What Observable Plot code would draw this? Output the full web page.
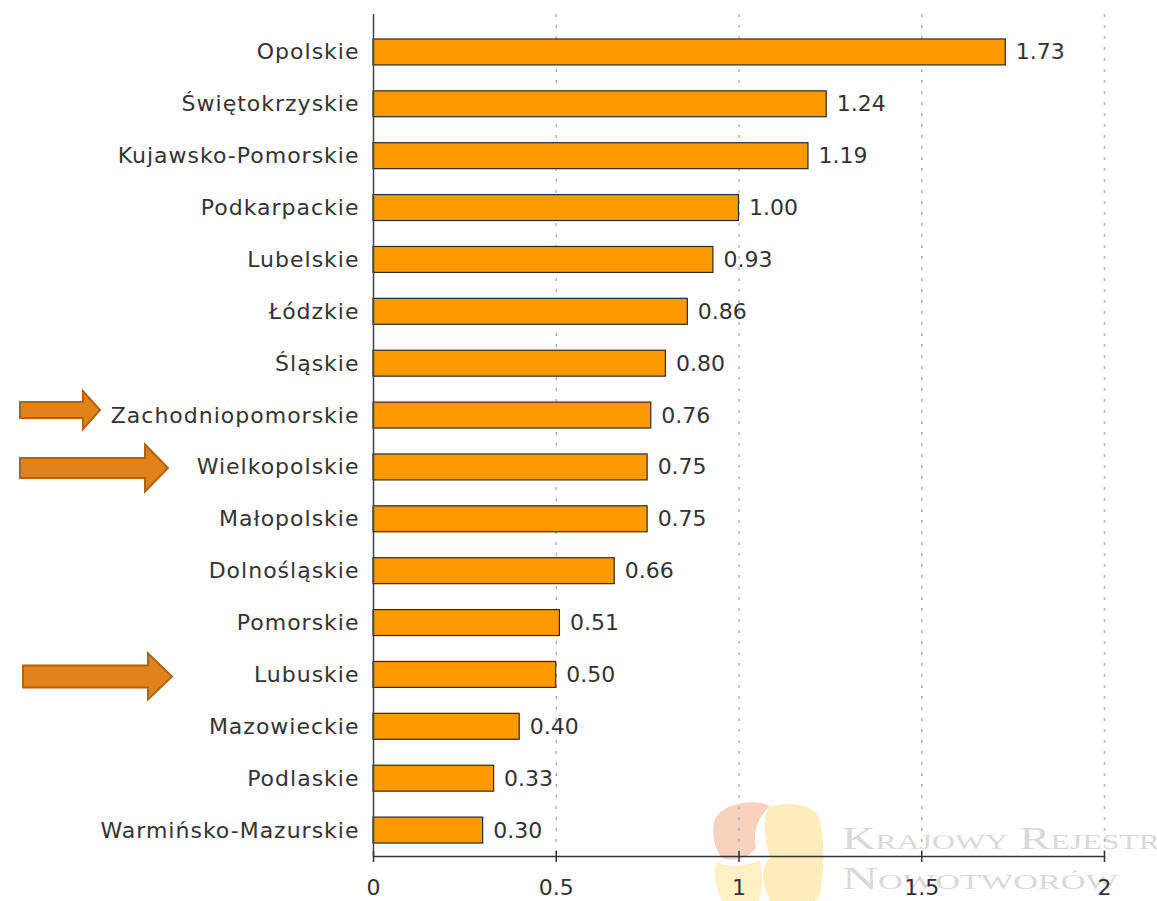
<!DOCTYPE html>
<html>
<head>
<meta charset="utf-8">
<script src="https://cdn.jsdelivr.net/npm/d3@7"></script>
<script src="https://cdn.jsdelivr.net/npm/@observablehq/plot@0.6"></script>
<style>
  html, body { margin: 0; padding: 0; background: #fff; }
  #chart svg { display: block; }
</style>
</head>
<body>
<div id="chart"></div>
<script>
const regions = [
  "Opolskie", "Świętokrzyskie", "Kujawsko-Pomorskie", "Podkarpackie", "Lubelskie",
  "Łódzkie", "Śląskie", "Zachodniopomorskie", "Wielkopolskie", "Małopolskie",
  "Dolnośląskie", "Pomorskie", "Lubuskie", "Mazowieckie", "Podlaskie", "Warmińsko-Mazurskie"
];
const values = [1.73, 1.24, 1.19, 1.00, 0.93, 0.86, 0.80, 0.76, 0.75, 0.75, 0.66, 0.51, 0.50, 0.40, 0.33, 0.30];
const xTicks = [0, 0.5, 1, 1.5, 2];
const highlighted = ["Zachodniopomorskie", "Wielkopolskie", "Lubuskie"];
const watermarkLines = ["Krajowy Rejestr", "Nowotworów"];

const data = regions.map((name, i) => ({name, value: values[i]}));

const W = 1157, H = 901;
const mTop = 26, mBottom = 45, mLeft = 373, mRight = 53;
const plotH = H - mTop - mBottom;
const font = "DejaVu Sans, Verdana, sans-serif";

// arrow geometry (annotation styling, per highlighted row)
const arrowShapes = [
  {tail: 20, neck: 83, tip: 100, shaft: 8, head: 19, dy: -5},
  {tail: 20, neck: 145, tip: 168, shaft: 10, head: 23.5, dy: 1},
  {tail: 23, neck: 148, tip: 172, shaft: 11, head: 23, dy: 2}
];

function bandCenter(scales, name) {
  const y = scales.y;
  let bw = y.bandwidth;
  if (typeof bw === "function") bw = bw.call(y);
  if (!(bw > 0) && scales.scales && scales.scales.y) bw = scales.scales.y.bandwidth;
  if (!(bw > 0)) bw = (y(regions[1]) - y(regions[0])) * 0.5;
  return y(name) + bw / 2;
}

function arrows(index, scales) {
  const g = d3.create("svg:g");
  highlighted.forEach((name, i) => {
    const s = arrowShapes[i];
    const cy = bandCenter(scales, name) + s.dy;
    const pts = [
      [s.tail, cy - s.shaft], [s.neck, cy - s.shaft], [s.neck, cy - s.head],
      [s.tip, cy], [s.neck, cy + s.head], [s.neck, cy + s.shaft], [s.tail, cy + s.shaft]
    ];
    g.append("polygon")
      .attr("points", pts.map(p => p.join(",")).join(" "))
      .attr("fill", "#E3811A")
      .attr("stroke", "#B0620F")
      .attr("stroke-width", 2)
      .attr("stroke-linejoin", "miter");
  });
  return g.node();
}

function watermark() {
  const g = d3.create("svg:g").attr("opacity", 0.85);
  // faint logo pieces
  g.append("path")
    .attr("d", "M768,808 C785,800 812,805 818,815 C826,840 824,872 820,895 L815,901 L770,901 C762,885 760,868 770,858 C765,840 762,822 768,808 Z")
    .attr("fill", "#FEEBB0");
  g.append("path")
    .attr("d", "M716,862 C730,868 748,866 760,860 C763,875 763,890 759,901 L722,901 C716,888 713,875 716,862 Z")
    .attr("fill", "#FEEDBB");
  g.append("path")
    .attr("d", "M714,822 C718,808 740,800 762,803 L770,806 C760,815 752,830 756,848 C748,858 735,862 722,858 C714,848 712,835 714,822 Z")
    .attr("fill", "#F7C9B4");
  const common = t => t
    .attr("fill", "#d3d3d3")
    .attr("font-family", "Liberation Serif, DejaVu Serif, serif")
    .attr("font-size", 32)
    .attr("font-variant", "small-caps")
    .attr("text-anchor", "start")
    .attr("lengthAdjust", "spacingAndGlyphs");
  common(g.append("text")).attr("x", 842).attr("y", 849).attr("textLength", 318).text(watermarkLines[0]);
  common(g.append("text")).attr("x", 842).attr("y", 889).attr("textLength", 276).text(watermarkLines[1]);
  return g.node();
}

const chart = Plot.plot({
  width: W,
  height: H,
  marginTop: mTop,
  marginBottom: mBottom,
  marginLeft: mLeft,
  marginRight: mRight,
  style: {fontFamily: font, fontSize: "22px", color: "#333", background: "#fff", overflow: "visible"},
  x: {domain: [0, 2], ticks: xTicks},
  y: {domain: regions, paddingInner: 0.5, paddingOuter: 0.25, round: false, label: null},
  marks: [
    watermark,
    Plot.ruleX(xTicks.slice(1), {stroke: "#b5b5b5", strokeDasharray: "3,8", strokeWidth: 1.5, insetTop: -12}),
    Plot.barX(data, {x: "value", y: "name", fill: "#FF9900", stroke: "#2a2a2a", strokeWidth: 1.2}),
    Plot.text(data, {x: "value", y: "name", text: d => d.value.toFixed(2), dx: 10, textAnchor: "start",
      fill: "#333", fontSize: 22}),
    Plot.axisY({tickSize: 0, tickPadding: 14, fontSize: 22, label: null, fill: "#333"}),
    Plot.ruleX([0], {stroke: "#444", strokeWidth: 1.5, insetTop: -12}),
    Plot.frame({anchor: "bottom", stroke: "#333", strokeWidth: 1.5}),
    Plot.ruleX(xTicks, {stroke: "#333", strokeWidth: 1.5, insetTop: plotH - 5, insetBottom: -6}),
    Plot.axisX({ticks: xTicks, tickFormat: d => String(d), tickSize: 0, tickPadding: 23,
      fontSize: 22, label: null, fill: "#333"}),
    arrows
  ]
});

// wider letter spacing on the region labels, as in the reference
chart.querySelectorAll("g[aria-label='y-axis tick label'] text")
  .forEach(t => t.setAttribute("letter-spacing", "1"));

document.getElementById("chart").appendChild(chart);
</script>
</body>
</html>
